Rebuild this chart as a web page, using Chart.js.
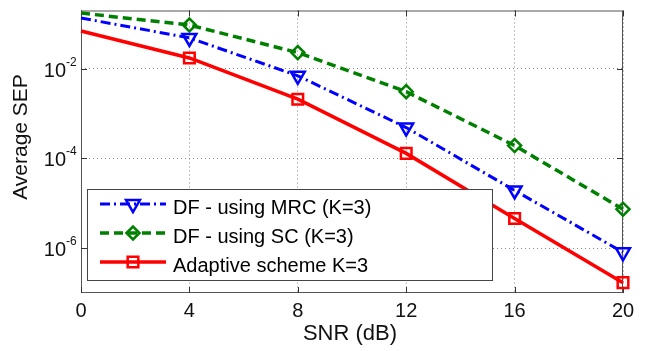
<!DOCTYPE html>
<html><head><meta charset="utf-8">
<script src="https://cdn.jsdelivr.net/npm/chart.js@4.4.0/dist/chart.umd.min.js"></script>
<style>html,body{margin:0;padding:0;background:#fff;}</style>
</head><body>
<canvas id="c" width="650" height="351"></canvas>
<script>
const snr = [0, 4, 8, 12, 16, 20];
const sepMRC = [0.136, 0.049, 7.0e-3, 4.9e-4, 1.94e-5, 8.1e-7];
const sepSC = [0.175, 0.095, 0.023, 3.1e-3, 1.94e-4, 7.4e-6];
const sepAdaptive = [0.07, 0.0175, 2.1e-3, 1.3e-4, 4.6e-6, 1.7e-7];
const xTicks = [0, 4, 8, 12, 16, 20];
const yTickExps = [-6, -4, -2];
const seriesLabels = ['DF - using MRC (K=3)', 'DF - using SC (K=3)', 'Adaptive scheme K=3'];
const xTitle = 'SNR (dB)';
const yTitle = 'Average SEP';

const FONT = '"Liberation Sans", Arial, sans-serif';
const pts = arr => snr.map((x, i) => ({x: x, y: arr[i]}));
const radii = r => snr.map(x => (x === 0 ? 0 : r));

const frame = {
  id: 'frame',
  beforeDatasetsDraw(chart) {
    const {ctx, chartArea: a} = chart;
    const xs = chart.scales.x, ys = chart.scales.y;
    ctx.save();
    ctx.strokeStyle = '#555';
    ctx.lineWidth = 1;
    ctx.setLineDash([]);
    ctx.strokeRect(a.left + 0.5, a.top + 0.5, a.right - a.left - 1, a.bottom - a.top - 1);
    ctx.strokeStyle = '#333';
    ctx.beginPath();
    xTicks.forEach(v => {
      const px = Math.round(xs.getPixelForValue(v)) + 0.5;
      ctx.moveTo(px, a.bottom); ctx.lineTo(px, a.bottom - 6);
      ctx.moveTo(px, a.top); ctx.lineTo(px, a.top + 6);
    });
    yTickExps.forEach(e => {
      const py = Math.round(ys.getPixelForValue(Math.pow(10, e))) + 0.5;
      ctx.moveTo(a.left, py); ctx.lineTo(a.left + 6, py);
      ctx.moveTo(a.right, py); ctx.lineTo(a.right - 6, py);
    });
    ctx.stroke();
    ctx.restore();
  },
  afterDatasetsDraw(chart) {
    const {ctx} = chart;
    const bx = 87, by = 189, bw = 405, bh = 91;
    ctx.save();
    ctx.fillStyle = '#fff';
    ctx.fillRect(bx, by, bw, bh);
    ctx.strokeStyle = '#444';
    ctx.lineWidth = 1;
    ctx.strokeRect(bx + 0.5, by + 0.5, bw, bh);
    const rows = [204, 233, 262];
    chart.data.datasets.forEach((ds, i) => {
      const y = rows[i];
      ctx.strokeStyle = ds.borderColor;
      ctx.lineWidth = ds.borderWidth;
      ctx.setLineDash(ds.borderDash || []);
      ctx.beginPath();
      ctx.moveTo(100, y); ctx.lineTo(166, y);
      ctx.stroke();
      ctx.setLineDash([]);
      ctx.fillStyle = 'rgba(0,0,0,0)';
      ctx.strokeStyle = ds.pointBorderColor;
      ctx.lineWidth = ds.pointBorderWidth;
      Chart.helpers.drawPoint(ctx, {
        pointStyle: ds.pointStyle, rotation: ds.pointRotation || 0,
        radius: ds.pointRadius[1], borderWidth: ds.pointBorderWidth
      }, 133, y);
      ctx.fillStyle = '#000';
      ctx.font = '20px ' + FONT;
      ctx.textAlign = 'left';
      ctx.textBaseline = 'alphabetic';
      ctx.fillText(ds.label, 173, y + 10);
    });
    ctx.restore();
  },
  afterDraw(chart) {
    const {ctx} = chart;
    const xs = chart.scales.x, ys = chart.scales.y;
    ctx.save();
    ctx.fillStyle = '#111';
    ctx.font = '20px ' + FONT;
    ctx.textAlign = 'center';
    ctx.textBaseline = 'alphabetic';
    xTicks.forEach(v => ctx.fillText(String(v), xs.getPixelForValue(v), 317));
    yTickExps.forEach(e => {
      const py = ys.getPixelForValue(Math.pow(10, e));
      ctx.font = '20px ' + FONT;
      ctx.textAlign = 'right';
      ctx.fillText('10', 66, py + 8);
      ctx.font = '12px ' + FONT;
      ctx.textAlign = 'left';
      ctx.fillText(String(e), 66, py - 3);
    });
    ctx.font = '22px ' + FONT;
    ctx.textAlign = 'center';
    ctx.fillText(xTitle, 350, 340);
    ctx.translate(27, 137);
    ctx.rotate(-Math.PI / 2);
    ctx.font = '21px ' + FONT;
    ctx.fillText(yTitle, 0, 0);
    ctx.restore();
  }
};

new Chart(document.getElementById('c'), {
  type: 'line',
  data: {
    datasets: [
      {label: seriesLabels[0], data: pts(sepMRC), borderColor: '#0000ff', borderWidth: 3,
       borderDash: [10, 4, 2, 4], pointStyle: 'triangle', pointRotation: 180, pointRadius: radii(8),
       pointBorderWidth: 2.5, pointBorderColor: '#0000ff', pointBackgroundColor: 'rgba(0,0,0,0)', clip: false},
      {label: seriesLabels[1], data: pts(sepSC), borderColor: '#008000', borderWidth: 3.5,
       borderDash: [9, 5], pointStyle: 'rectRot', pointRadius: radii(6.5),
       pointBorderWidth: 2.5, pointBorderColor: '#008000', pointBackgroundColor: 'rgba(0,0,0,0)', clip: false},
      {label: seriesLabels[2], data: pts(sepAdaptive), borderColor: '#ff0000', borderWidth: 3.5,
       pointStyle: 'rect', pointRadius: radii(7.5),
       pointBorderWidth: 2.5, pointBorderColor: '#ff0000', pointBackgroundColor: 'rgba(0,0,0,0)', clip: false}
    ]
  },
  options: {
    responsive: false, animation: false, devicePixelRatio: 1,
    layout: {padding: {left: 0, right: 27, top: 9, bottom: 0}},
    plugins: {legend: {display: false}, tooltip: {enabled: false}},
    elements: {line: {tension: 0}},
    scales: {
      x: {
        type: 'linear', min: 0, max: 20,
        afterBuildTicks: s => { s.ticks = xTicks.map(v => ({value: v})); },
        afterFit: s => { s.height = 58; },
        ticks: {display: false},
        grid: {color: '#888', lineWidth: 1, drawTicks: false},
        border: {display: false, dash: [1, 3]}
      },
      y: {
        type: 'logarithmic', min: 1e-7, max: 0.2,
        afterBuildTicks: s => { s.ticks = yTickExps.map(e => ({value: Math.pow(10, e)})); },
        afterFit: s => { s.width = 81; },
        ticks: {display: false},
        grid: {color: '#888', lineWidth: 1, drawTicks: false},
        border: {display: false, dash: [1, 3]}
      }
    }
  },
  plugins: [frame]
});
</script>
</body></html>
